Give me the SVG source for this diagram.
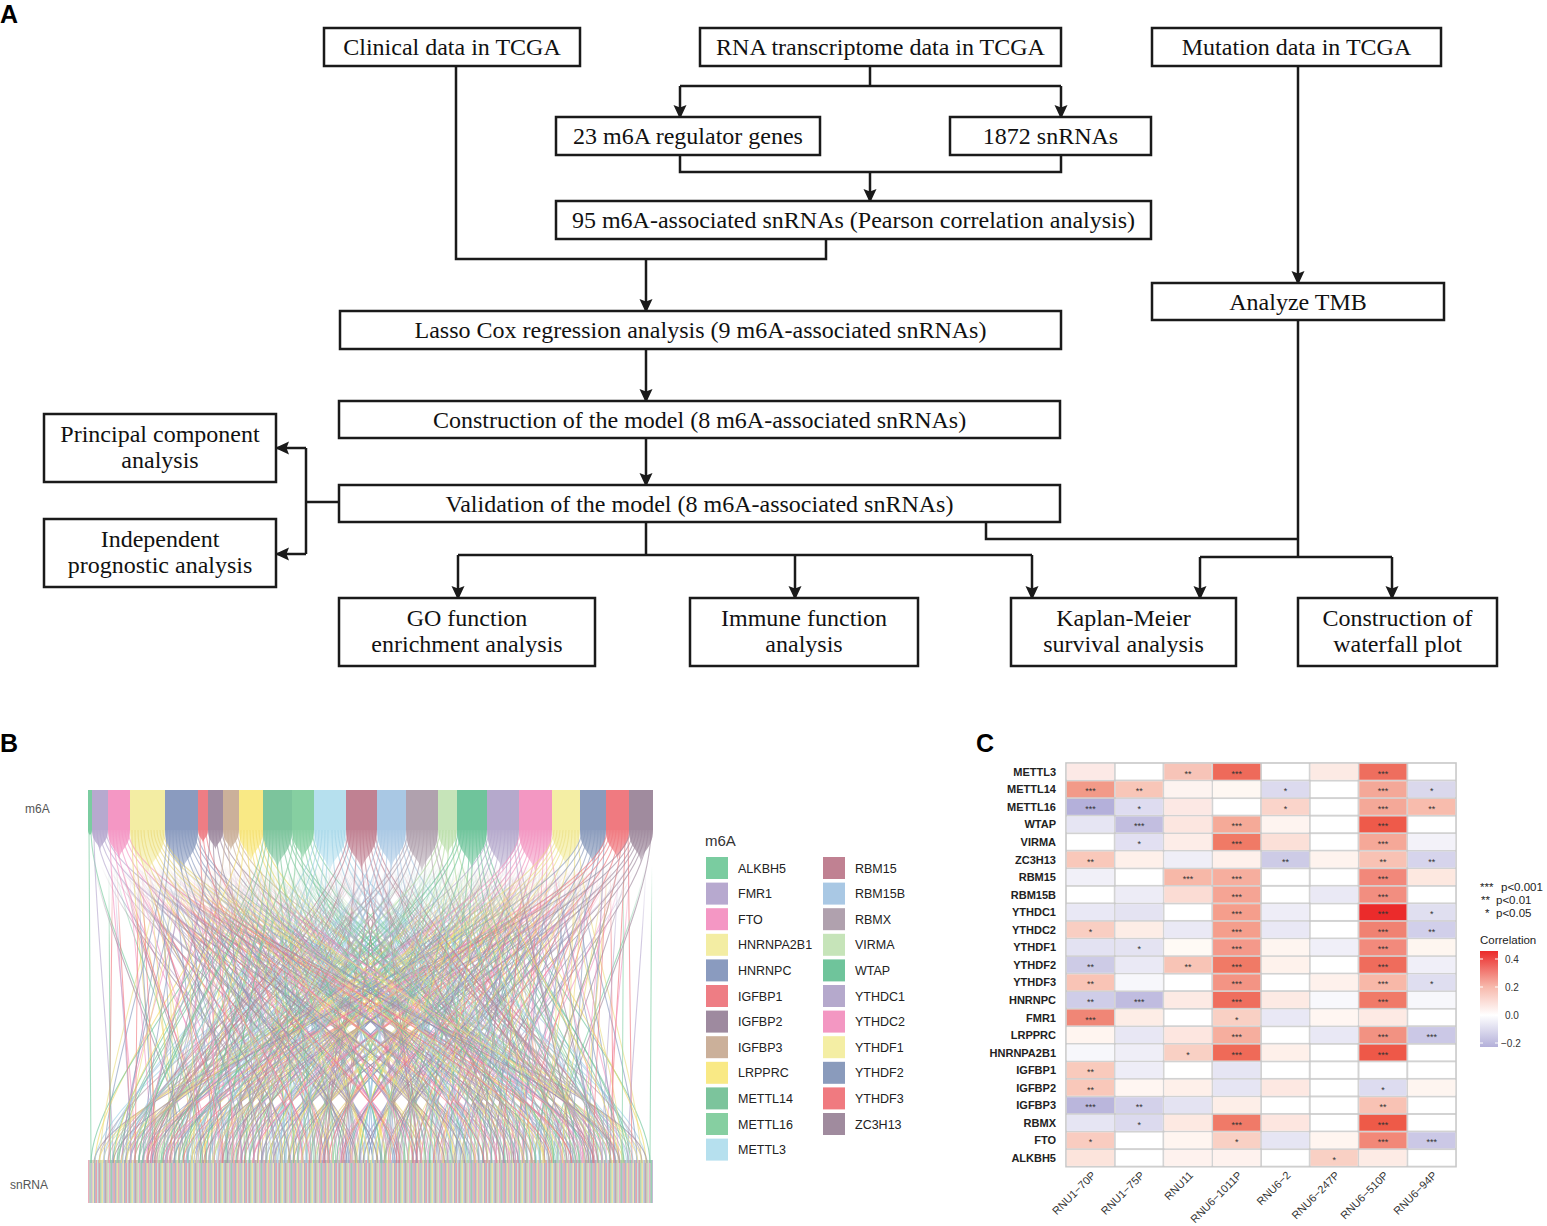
<svg xmlns="http://www.w3.org/2000/svg" xmlns:xlink="http://www.w3.org/1999/xlink" width="1547" height="1226" viewBox="0 0 1547 1226">
<style>
.bx{fill:#fff;stroke:#1a1a1a;stroke-width:2.5}
.bt{font-family:"Liberation Serif","Times New Roman",serif;font-size:24px;fill:#111;text-anchor:middle}
.cn{fill:none;stroke:#1a1a1a;stroke-width:2.5}
.ar{fill:none;stroke:#1a1a1a;stroke-width:2.5;marker-end:url(#ah)}
.pl{font-family:"Liberation Sans",Arial,sans-serif;font-weight:bold;font-size:25px;fill:#000}
.lg{font-family:"Liberation Sans",Arial,sans-serif;font-size:12.5px;fill:#222}
.ax{font-family:"Liberation Sans",Arial,sans-serif;font-size:12px;fill:#555}
.rl{font-family:"Liberation Sans",Arial,sans-serif;font-weight:bold;font-size:11px;fill:#222;text-anchor:end}
.st{font-family:"Liberation Sans",Arial,sans-serif;font-size:9px;fill:#333;text-anchor:middle}
.cl{font-family:"Liberation Sans",Arial,sans-serif;font-size:11px;fill:#333;text-anchor:end}
.sm{font-family:"Liberation Sans",Arial,sans-serif;font-size:11.5px;fill:#222}
.lk path{fill:none;stroke-width:1.1;stroke-opacity:0.65}
</style>
<defs>
<marker id="ah" viewBox="0 0 14 14" refX="12" refY="7" markerWidth="14" markerHeight="14" markerUnits="userSpaceOnUse" orient="auto"><path d="M0,0.5 L14,7 L0,13.5 L2.5,7 Z" fill="#1a1a1a"/></marker>
<linearGradient id="fg" x1="0" y1="830" x2="0" y2="905" gradientUnits="userSpaceOnUse"><stop offset="0" stop-color="#fff" stop-opacity="0.95"/><stop offset="0.55" stop-color="#fff" stop-opacity="0.45"/><stop offset="1" stop-color="#fff" stop-opacity="0"/></linearGradient>
<mask id="fade" maskUnits="userSpaceOnUse" x="80" y="828" width="590" height="90"><rect x="80" y="828" width="590" height="90" fill="url(#fg)"/></mask>
<linearGradient id="mg" x1="0" y1="865" x2="0" y2="945" gradientUnits="userSpaceOnUse"><stop offset="0" stop-color="#000"/><stop offset="1" stop-color="#fff"/></linearGradient>
<mask id="mm" maskUnits="userSpaceOnUse" x="50" y="800" width="640" height="380"><rect x="50" y="800" width="640" height="380" fill="url(#mg)"/></mask>
<pattern id="sn" patternUnits="userSpaceOnUse" x="88" y="0" width="30" height="1300">
<rect x="0" width="1.5" height="1300" fill="#F4A7B9"/><rect x="1.5" width="1.5" height="1300" fill="#A9D8C0"/><rect x="3" width="1.5" height="1300" fill="#C9B8D8"/><rect x="4.5" width="1.5" height="1300" fill="#F6EFB0"/><rect x="6" width="1.5" height="1300" fill="#9FB0CC"/><rect x="7.5" width="1.5" height="1300" fill="#F29AA0"/><rect x="9" width="1.5" height="1300" fill="#C4E6F0"/><rect x="10.5" width="1.5" height="1300" fill="#CF98A6"/><rect x="12" width="1.5" height="1300" fill="#A6DDB6"/><rect x="13.5" width="1.5" height="1300" fill="#F7EB9A"/><rect x="15" width="1.5" height="1300" fill="#BCD4EC"/><rect x="16.5" width="1.5" height="1300" fill="#B4A2B3"/><rect x="18" width="1.5" height="1300" fill="#D7C2AE"/><rect x="19.5" width="1.5" height="1300" fill="#D2EAC5"/><rect x="21" width="1.5" height="1300" fill="#F5A9CD"/><rect x="22.5" width="1.5" height="1300" fill="#8FD0AE"/><rect x="24" width="1.5" height="1300" fill="#C2B7D8"/><rect x="25.5" width="1.5" height="1300" fill="#EFA2A6"/><rect x="27" width="1.5" height="1300" fill="#A5B3CE"/><rect x="28.5" width="1.5" height="1300" fill="#E9E3A5"/>
</pattern>
<pattern id="grid" patternUnits="userSpaceOnUse" x="1066" y="763" width="48.75" height="17.55"><rect width="48.75" height="17.55" fill="#C8C8C8"/><rect x="0.8" y="0.8" width="47.2" height="15.95" fill="#fff"/></pattern>
<linearGradient id="cb" x1="0" y1="951" x2="0" y2="1047" gradientUnits="userSpaceOnUse"><stop offset="0" stop-color="#EB2A2A"/><stop offset="0.375" stop-color="#F7B9AC"/><stop offset="0.667" stop-color="#FFFFFF"/><stop offset="1" stop-color="#B3AFD9"/></linearGradient>
</defs>
<rect width="1547" height="1226" fill="#fff"/>

<!-- Panel A -->
<text class="pl" x="0" y="23">A</text>
<g id="connectors">
<path class="cn" d="M456,66 V259 H826 V239"/>
<path class="ar" d="M646,259 V311"/>
<path class="cn" d="M870,66 V86 M680,86 H1061"/>
<path class="ar" d="M680,86 V117"/>
<path class="ar" d="M1061,86 V117"/>
<path class="cn" d="M680,155 V172 H1061 V155"/>
<path class="ar" d="M870,172 V201"/>
<path class="ar" d="M646,349 V401"/>
<path class="ar" d="M646,438 V485"/>
<path class="cn" d="M339,502 H306 M306,448 V554"/>
<path class="ar" d="M306,448 H277"/>
<path class="ar" d="M306,554 H277"/>
<path class="cn" d="M646,522 V555 M458,555 H1032"/>
<path class="ar" d="M458,555 V598"/>
<path class="ar" d="M795,555 V598"/>
<path class="ar" d="M1032,555 V598"/>
<path class="ar" d="M1298,66 V283"/>
<path class="cn" d="M1298,320 V557 M986,522 V539 H1298 M1200,557 H1392"/>
<path class="ar" d="M1200,557 V598"/>
<path class="ar" d="M1392,557 V598"/>
</g>
<g id="n-clinical"><rect class="bx" x="324" y="28" width="256" height="38"/><text class="bt" x="452" y="55">Clinical data in TCGA</text></g>
<g id="n-rna"><rect class="bx" x="700" y="28" width="361" height="38"/><text class="bt" x="880.5" y="55">RNA transcriptome data in TCGA</text></g>
<g id="n-mutation"><rect class="bx" x="1152" y="28" width="289" height="38"/><text class="bt" x="1296.5" y="55">Mutation data in TCGA</text></g>
<g id="n-m6a"><rect class="bx" x="556" y="117" width="264" height="38"/><text class="bt" x="688" y="144">23 m6A regulator genes</text></g>
<g id="n-snrna"><rect class="bx" x="950" y="117" width="201" height="38"/><text class="bt" x="1050.5" y="144">1872 snRNAs</text></g>
<g id="n-pearson"><rect class="bx" x="556" y="201" width="595" height="38"/><text class="bt" x="853.5" y="228">95 m6A-associated snRNAs (Pearson correlation analysis)</text></g>
<g id="n-lasso"><rect class="bx" x="340" y="311" width="721" height="38"/><text class="bt" x="700.5" y="338">Lasso Cox regression analysis (9 m6A-associated snRNAs)</text></g>
<g id="n-tmb"><rect class="bx" x="1152" y="283" width="292" height="37"/><text class="bt" x="1298" y="309.5">Analyze TMB</text></g>
<g id="n-construct"><rect class="bx" x="339" y="401" width="721" height="37"/><text class="bt" x="699.5" y="427.5">Construction of the model (8 m6A-associated snRNAs)</text></g>
<g id="n-validate"><rect class="bx" x="339" y="485" width="721" height="37"/><text class="bt" x="699.5" y="511.5">Validation of the model (8 m6A-associated snRNAs)</text></g>
<g id="n-pca"><rect class="bx" x="44" y="414" width="232" height="68"/><text class="bt" x="160" y="442">Principal component</text><text class="bt" x="160" y="468">analysis</text></g>
<g id="n-indep"><rect class="bx" x="44" y="519" width="232" height="68"/><text class="bt" x="160" y="547">Independent</text><text class="bt" x="160" y="573">prognostic analysis</text></g>
<g id="n-go"><rect class="bx" x="339" y="598" width="256" height="68"/><text class="bt" x="467" y="626">GO function</text><text class="bt" x="467" y="652">enrichment analysis</text></g>
<g id="n-immune"><rect class="bx" x="690" y="598" width="228" height="68"/><text class="bt" x="804" y="626">Immune function</text><text class="bt" x="804" y="652">analysis</text></g>
<g id="n-km"><rect class="bx" x="1011" y="598" width="225" height="68"/><text class="bt" x="1123.5" y="626">Kaplan-Meier</text><text class="bt" x="1123.5" y="652">survival analysis</text></g>
<g id="n-waterfall"><rect class="bx" x="1298" y="598" width="199" height="68"/><text class="bt" x="1397.5" y="626">Construction of</text><text class="bt" x="1397.5" y="652">waterfall plot</text></g>

<!-- Panel B -->
<text class="pl" x="0" y="752">B</text>
<text class="ax" x="25" y="813">m6A</text>
<text class="ax" x="10" y="1189">snRNA</text>
<rect x="88" y="1160" width="565" height="43" fill="#C9C9C9"/>
<rect x="88" y="1160" width="565" height="43" fill="url(#sn)" opacity="0.8"/>
<g id="fans" mask="url(#fade)">
<path d="M88 830C88 834 90 834 90 836C90 834 92 834 92 830Z" fill="#7ACCA0"/>
<path d="M92 830C92 843 100 843 100 852C100 843 108 843 108 830Z" fill="#B7A9CF"/>
<path d="M108 830C108 849 119 849 119 861C119 849 130 849 130 830Z" fill="#F497C4"/>
<path d="M130 830C130 859 147.5 859 147.5 879C147.5 859 165 859 165 830Z" fill="#F3EDA3"/>
<path d="M165 830C165 858 181.5 858 181.5 876C181.5 858 198 858 198 830Z" fill="#8A9BBF"/>
<path d="M198 830C198 838 203 838 203 844C203 838 208 838 208 830Z" fill="#EE7D84"/>
<path d="M208 830C208 843 215.5 843 215.5 851C215.5 843 223 843 223 830Z" fill="#9E8A9F"/>
<path d="M223 830C223 843 231 843 231 852C231 843 239 843 239 830Z" fill="#CBB09A"/>
<path d="M239 830C239 850 251 850 251 864C251 850 263 850 263 830Z" fill="#F9E985"/>
<path d="M263 830C263 855 277.5 855 277.5 871C277.5 855 292 855 292 830Z" fill="#7CC49C"/>
<path d="M292 830C292 849 303 849 303 861C303 849 314 849 314 830Z" fill="#86CFA1"/>
<path d="M314 830C314 857 330 857 330 875C330 857 346 857 346 830Z" fill="#B6E0EE"/>
<path d="M346 830C346 856 361.5 856 361.5 873C361.5 856 377 856 377 830Z" fill="#C08192"/>
<path d="M377 830C377 855 391.5 855 391.5 871C391.5 855 406 855 406 830Z" fill="#A9C8E4"/>
<path d="M406 830C406 857 422 857 422 875C422 857 438 857 438 830Z" fill="#B0A1AE"/>
<path d="M438 830C438 846 447.5 846 447.5 857C447.5 846 457 846 457 830Z" fill="#C6E4B9"/>
<path d="M457 830C457 855 472 855 472 872C472 855 487 855 487 830Z" fill="#6FC49B"/>
<path d="M487 830C487 857 503 857 503 875C503 857 519 857 519 830Z" fill="#B5A9CC"/>
<path d="M519 830C519 858 535.5 858 535.5 876C535.5 858 552 858 552 830Z" fill="#F397C2"/>
<path d="M552 830C552 853 566 853 566 869C566 853 580 853 580 830Z" fill="#F4EEA4"/>
<path d="M580 830C580 852 593 852 593 866C593 852 606 852 606 830Z" fill="#8A9BBC"/>
<path d="M606 830C606 849 617.5 849 617.5 862C617.5 849 629 849 629 830Z" fill="#F07A80"/>
<path d="M629 830C629 850 641 850 641 864C641 850 653 850 653 830Z" fill="#A08B9E"/>
</g>
<g id="links" class="lk">
<path stroke="#7ACCA0" d="M89 830C89 915 91 1080 91 1163M91 830C91 915 188 1080 188 1163"/>
<path stroke="#B7A9CF" d="M94 830C94 915 113 1080 113 1163M97 830C97 915 285 1080 285 1163M100 830C100 915 382 1080 382 1163M103 830C103 915 479 1080 479 1163M106 830C106 915 576 1080 576 1163"/>
<path stroke="#F497C4" d="M110 830C110 915 135 1080 135 1163M113 830C113 915 210 1080 210 1163M116 830C116 915 232 1080 232 1163M119 830C119 915 307 1080 307 1163M122 830C122 915 404 1080 404 1163M125 830C125 915 501 1080 501 1163M128 830C128 915 598 1080 598 1163"/>
<path stroke="#EBD97A" d="M132 830C132 915 157 1080 157 1163M135 830C135 915 179 1080 179 1163M138 830C138 915 254 1080 254 1163M141 830C141 915 329 1080 329 1163M144 830C144 915 351 1080 351 1163M148 830C148 915 426 1080 426 1163M151 830C151 915 448 1080 448 1163M154 830C154 915 523 1080 523 1163M157 830C157 915 545 1080 545 1163M160 830C160 915 620 1080 620 1163M163 830C163 915 642 1080 642 1163"/>
<path stroke="#8A9BBF" d="M167 830C167 915 104 1080 104 1163M170 830C170 915 126 1080 126 1163M173 830C173 915 201 1080 201 1163M176 830C176 915 276 1080 276 1163M179 830C179 915 298 1080 298 1163M182 830C182 915 373 1080 373 1163M185 830C185 915 395 1080 395 1163M188 830C188 915 470 1080 470 1163M191 830C191 915 492 1080 492 1163M194 830C194 915 567 1080 567 1163M197 830C197 915 589 1080 589 1163"/>
<path stroke="#EE7D84" d="M200 830C200 915 223 1080 223 1163M203 830C203 915 320 1080 320 1163M206 830C206 915 417 1080 417 1163"/>
<path stroke="#9E8A9F" d="M210 830C210 915 148 1080 148 1163M213 830C213 915 245 1080 245 1163M216 830C216 915 342 1080 342 1163M219 830C219 915 514 1080 514 1163M222 830C222 915 611 1080 611 1163"/>
<path stroke="#CBB09A" d="M225 830C225 915 170 1080 170 1163M228 830C228 915 267 1080 267 1163M231 830C231 915 439 1080 439 1163M234 830C234 915 536 1080 536 1163M237 830C237 915 633 1080 633 1163"/>
<path stroke="#F2DC6A" d="M241 830C241 915 95 1080 95 1163M244 830C244 915 192 1080 192 1163M247 830C247 915 289 1080 289 1163M250 830C250 915 364 1080 364 1163M253 830C253 915 386 1080 386 1163M256 830C256 915 461 1080 461 1163M259 830C259 915 483 1080 483 1163M262 830C262 915 558 1080 558 1163"/>
<path stroke="#7CC49C" d="M264 830C264 915 117 1080 117 1163M267 830C267 915 139 1080 139 1163M270 830C270 915 214 1080 214 1163M273 830C273 915 236 1080 236 1163M276 830C276 915 311 1080 311 1163M279 830C279 915 333 1080 333 1163M282 830C282 915 408 1080 408 1163M285 830C285 915 505 1080 505 1163M288 830C288 915 580 1080 580 1163M291 830C291 915 602 1080 602 1163"/>
<path stroke="#86CFA1" d="M294 830C294 915 161 1080 161 1163M297 830C297 915 258 1080 258 1163M300 830C300 915 355 1080 355 1163M303 830C303 915 430 1080 430 1163M306 830C306 915 452 1080 452 1163M309 830C309 915 527 1080 527 1163M312 830C312 915 624 1080 624 1163"/>
<path stroke="#9FD3E6" d="M316 830C316 915 108 1080 108 1163M319 830C319 915 183 1080 183 1163M322 830C322 915 205 1080 205 1163M325 830C325 915 280 1080 280 1163M328 830C328 915 302 1080 302 1163M332 830C332 915 377 1080 377 1163M335 830C335 915 474 1080 474 1163M338 830C338 915 549 1080 549 1163M341 830C341 915 571 1080 571 1163M344 830C344 915 646 1080 646 1163"/>
<path stroke="#C08192" d="M348 830C348 915 130 1080 130 1163M351 830C351 915 152 1080 152 1163M354 830C354 915 227 1080 227 1163M357 830C357 915 324 1080 324 1163M360 830C360 915 399 1080 399 1163M363 830C363 915 421 1080 421 1163M366 830C366 915 496 1080 496 1163M369 830C369 915 518 1080 518 1163M372 830C372 915 593 1080 593 1163M375 830C375 915 615 1080 615 1163"/>
<path stroke="#A9C8E4" d="M379 830C379 915 174 1080 174 1163M382 830C382 915 249 1080 249 1163M385 830C385 915 271 1080 271 1163M388 830C388 915 346 1080 346 1163M392 830C392 915 368 1080 368 1163M395 830C395 915 443 1080 443 1163M398 830C398 915 465 1080 465 1163M401 830C401 915 540 1080 540 1163M404 830C404 915 637 1080 637 1163"/>
<path stroke="#B0A1AE" d="M408 830C408 915 99 1080 99 1163M411 830C411 915 121 1080 121 1163M414 830C414 915 196 1080 196 1163M417 830C417 915 218 1080 218 1163M420 830C420 915 293 1080 293 1163M424 830C424 915 315 1080 315 1163M427 830C427 915 390 1080 390 1163M430 830C430 915 487 1080 487 1163M433 830C433 915 562 1080 562 1163M436 830C436 915 584 1080 584 1163"/>
<path stroke="#B3DC9F" d="M440 830C440 915 143 1080 143 1163M443 830C443 915 240 1080 240 1163M446 830C446 915 337 1080 337 1163M449 830C449 915 412 1080 412 1163M452 830C452 915 509 1080 509 1163M455 830C455 915 606 1080 606 1163"/>
<path stroke="#6FC49B" d="M458 830C458 915 165 1080 165 1163M461 830C461 915 187 1080 187 1163M464 830C464 915 262 1080 262 1163M467 830C467 915 359 1080 359 1163M470 830C470 915 434 1080 434 1163M473 830C473 915 456 1080 456 1163M476 830C476 915 531 1080 531 1163M479 830C479 915 553 1080 553 1163M482 830C482 915 628 1080 628 1163M485 830C485 915 650 1080 650 1163"/>
<path stroke="#B5A9CC" d="M489 830C489 915 112 1080 112 1163M492 830C492 915 209 1080 209 1163M495 830C495 915 284 1080 284 1163M498 830C498 915 306 1080 306 1163M501 830C501 915 381 1080 381 1163M505 830C505 915 403 1080 403 1163M508 830C508 915 478 1080 478 1163M511 830C511 915 500 1080 500 1163M514 830C514 915 575 1080 575 1163M517 830C517 915 597 1080 597 1163"/>
<path stroke="#F397C2" d="M520 830C520 915 134 1080 134 1163M523 830C523 915 156 1080 156 1163M526 830C526 915 231 1080 231 1163M529 830C529 915 253 1080 253 1163M532 830C532 915 328 1080 328 1163M535 830C535 915 350 1080 350 1163M538 830C538 915 425 1080 425 1163M541 830C541 915 447 1080 447 1163M544 830C544 915 522 1080 522 1163M547 830C547 915 544 1080 544 1163M550 830C550 915 619 1080 619 1163"/>
<path stroke="#EBDF86" d="M554 830C554 915 103 1080 103 1163M557 830C557 915 178 1080 178 1163M560 830C560 915 200 1080 200 1163M563 830C563 915 275 1080 275 1163M566 830C566 915 297 1080 297 1163M569 830C569 915 372 1080 372 1163M572 830C572 915 469 1080 469 1163M575 830C575 915 566 1080 566 1163M578 830C578 915 641 1080 641 1163"/>
<path stroke="#8A9BBC" d="M582 830C582 915 125 1080 125 1163M585 830C585 915 222 1080 222 1163M588 830C588 915 319 1080 319 1163M591 830C591 915 394 1080 394 1163M595 830C595 915 416 1080 416 1163M598 830C598 915 491 1080 491 1163M601 830C601 915 513 1080 513 1163M604 830C604 915 588 1080 588 1163"/>
<path stroke="#F07A80" d="M607 830C607 915 147 1080 147 1163M610 830C610 915 169 1080 169 1163M613 830C613 915 244 1080 244 1163M616 830C616 915 341 1080 341 1163M619 830C619 915 438 1080 438 1163M622 830C622 915 535 1080 535 1163M625 830C625 915 610 1080 610 1163M628 830C628 915 632 1080 632 1163"/>
<path stroke="#A08B9E" d="M630 830C630 915 94 1080 94 1163M633 830C633 915 191 1080 191 1163M636 830C636 915 266 1080 266 1163M639 830C639 915 288 1080 288 1163M642 830C642 915 363 1080 363 1163M645 830C645 915 385 1080 385 1163M648 830C648 915 460 1080 460 1163M651 830C651 915 557 1080 557 1163"/>
</g>
<use href="#links" xlink:href="#links" transform="matrix(-1 0 0 1 741 0)" mask="url(#mm)"/>
<use href="#links" xlink:href="#links" transform="matrix(0.93 0 0 1 25.9 0)" mask="url(#mm)"/>
<use href="#links" xlink:href="#links" transform="matrix(-0.9 0 0 1 703.95 0)" mask="url(#mm)"/>
<g id="m6a-bars">
<rect x="88" y="790" width="4" height="40" fill="#7ACCA0"/>
<rect x="92" y="790" width="16" height="40" fill="#B7A9CF"/>
<rect x="108" y="790" width="22" height="40" fill="#F497C4"/>
<rect x="130" y="790" width="35" height="40" fill="#F3EDA3"/>
<rect x="165" y="790" width="33" height="40" fill="#8A9BBF"/>
<rect x="198" y="790" width="10" height="40" fill="#EE7D84"/>
<rect x="208" y="790" width="15" height="40" fill="#9E8A9F"/>
<rect x="223" y="790" width="16" height="40" fill="#CBB09A"/>
<rect x="239" y="790" width="24" height="40" fill="#F9E985"/>
<rect x="263" y="790" width="29" height="40" fill="#7CC49C"/>
<rect x="292" y="790" width="22" height="40" fill="#86CFA1"/>
<rect x="314" y="790" width="32" height="40" fill="#B6E0EE"/>
<rect x="346" y="790" width="31" height="40" fill="#C08192"/>
<rect x="377" y="790" width="29" height="40" fill="#A9C8E4"/>
<rect x="406" y="790" width="32" height="40" fill="#B0A1AE"/>
<rect x="438" y="790" width="19" height="40" fill="#C6E4B9"/>
<rect x="457" y="790" width="30" height="40" fill="#6FC49B"/>
<rect x="487" y="790" width="32" height="40" fill="#B5A9CC"/>
<rect x="519" y="790" width="33" height="40" fill="#F397C2"/>
<rect x="552" y="790" width="28" height="40" fill="#F4EEA4"/>
<rect x="580" y="790" width="26" height="40" fill="#8A9BBC"/>
<rect x="606" y="790" width="23" height="40" fill="#F07A80"/>
<rect x="629" y="790" width="24" height="40" fill="#A08B9E"/>
</g>
<g id="legend-b">
<text x="705" y="846" font-family="Liberation Sans, Arial, sans-serif" font-size="15" fill="#333">m6A</text>
<rect x="706" y="857" width="22" height="22" fill="#7ACCA0"/><text class="lg" x="738" y="872.5">ALKBH5</text>
<rect x="706" y="882.6" width="22" height="22" fill="#B7A9CF"/><text class="lg" x="738" y="898.1">FMR1</text>
<rect x="706" y="908.2" width="22" height="22" fill="#F497C4"/><text class="lg" x="738" y="923.7">FTO</text>
<rect x="706" y="933.8" width="22" height="22" fill="#F3EDA3"/><text class="lg" x="738" y="949.3">HNRNPA2B1</text>
<rect x="706" y="959.4" width="22" height="22" fill="#8A9BBF"/><text class="lg" x="738" y="974.9">HNRNPC</text>
<rect x="706" y="985" width="22" height="22" fill="#EE7D84"/><text class="lg" x="738" y="1000.5">IGFBP1</text>
<rect x="706" y="1010.6" width="22" height="22" fill="#9E8A9F"/><text class="lg" x="738" y="1026.1">IGFBP2</text>
<rect x="706" y="1036.2" width="22" height="22" fill="#CBB09A"/><text class="lg" x="738" y="1051.7">IGFBP3</text>
<rect x="706" y="1061.8" width="22" height="22" fill="#F9E985"/><text class="lg" x="738" y="1077.3">LRPPRC</text>
<rect x="706" y="1087.4" width="22" height="22" fill="#7CC49C"/><text class="lg" x="738" y="1102.9">METTL14</text>
<rect x="706" y="1113" width="22" height="22" fill="#86CFA1"/><text class="lg" x="738" y="1128.5">METTL16</text>
<rect x="706" y="1138.6" width="22" height="22" fill="#B6E0EE"/><text class="lg" x="738" y="1154.1">METTL3</text>
<rect x="823" y="857" width="22" height="22" fill="#C08192"/><text class="lg" x="855" y="872.5">RBM15</text>
<rect x="823" y="882.6" width="22" height="22" fill="#A9C8E4"/><text class="lg" x="855" y="898.1">RBM15B</text>
<rect x="823" y="908.2" width="22" height="22" fill="#B0A1AE"/><text class="lg" x="855" y="923.7">RBMX</text>
<rect x="823" y="933.8" width="22" height="22" fill="#C6E4B9"/><text class="lg" x="855" y="949.3">VIRMA</text>
<rect x="823" y="959.4" width="22" height="22" fill="#6FC49B"/><text class="lg" x="855" y="974.9">WTAP</text>
<rect x="823" y="985" width="22" height="22" fill="#B5A9CC"/><text class="lg" x="855" y="1000.5">YTHDC1</text>
<rect x="823" y="1010.6" width="22" height="22" fill="#F397C2"/><text class="lg" x="855" y="1026.1">YTHDC2</text>
<rect x="823" y="1036.2" width="22" height="22" fill="#F4EEA4"/><text class="lg" x="855" y="1051.7">YTHDF1</text>
<rect x="823" y="1061.8" width="22" height="22" fill="#8A9BBC"/><text class="lg" x="855" y="1077.3">YTHDF2</text>
<rect x="823" y="1087.4" width="22" height="22" fill="#F07A80"/><text class="lg" x="855" y="1102.9">YTHDF3</text>
<rect x="823" y="1113" width="22" height="22" fill="#A08B9E"/><text class="lg" x="855" y="1128.5">ZC3H13</text>
</g>

<!-- Panel C -->
<text class="pl" x="976" y="752">C</text>
<rect x="1065.2" y="762.2" width="391.6" height="405.3" fill="#C8C8C8"/>
<rect x="1066" y="763" width="390" height="403.65" fill="url(#grid)"/>
<g id="heatmap">
<g id="r-METTL3" transform="translate(0,763.8)"><text class="rl" x="1056" y="12">METTL3</text>
<rect x="1066.8" width="47.2" height="15.95" fill="#FCE9E6"/><rect x="1164.3" width="47.2" height="15.95" fill="#F7C4B8"/><rect x="1213.05" width="47.2" height="15.95" fill="#EE6A5A"/><rect x="1310.55" width="47.2" height="15.95" fill="#FCEAE4"/><rect x="1359.3" width="47.2" height="15.95" fill="#EE6E5E"/>
<text class="st" x="1187.9" y="13">**</text><text class="st" x="1236.65" y="13">***</text><text class="st" x="1382.9" y="13">***</text></g>
<g id="r-METTL14" transform="translate(0,781.35)"><text class="rl" x="1056" y="12">METTL14</text>
<rect x="1066.8" width="47.2" height="15.95" fill="#F29A88"/><rect x="1115.55" width="47.2" height="15.95" fill="#F8C6B8"/><rect x="1164.3" width="47.2" height="15.95" fill="#FDF3F0"/><rect x="1213.05" width="47.2" height="15.95" fill="#FEF7F2"/><rect x="1261.8" width="47.2" height="15.95" fill="#DCDAEE"/><rect x="1359.3" width="47.2" height="15.95" fill="#F4A898"/><rect x="1408.05" width="47.2" height="15.95" fill="#DAD8EC"/>
<text class="st" x="1090.4" y="13">***</text><text class="st" x="1139.15" y="13">**</text><text class="st" x="1285.4" y="13">*</text><text class="st" x="1382.9" y="13">***</text><text class="st" x="1431.65" y="13">*</text></g>
<g id="r-METTL16" transform="translate(0,798.9)"><text class="rl" x="1056" y="12">METTL16</text>
<rect x="1066.8" width="47.2" height="15.95" fill="#B4B0DA"/><rect x="1115.55" width="47.2" height="15.95" fill="#DEDCF0"/><rect x="1164.3" width="47.2" height="15.95" fill="#FCE8E4"/><rect x="1261.8" width="47.2" height="15.95" fill="#FAD4CA"/><rect x="1359.3" width="47.2" height="15.95" fill="#F4A898"/><rect x="1408.05" width="47.2" height="15.95" fill="#F8BCAD"/>
<text class="st" x="1090.4" y="13">***</text><text class="st" x="1139.15" y="13">*</text><text class="st" x="1285.4" y="13">*</text><text class="st" x="1382.9" y="13">***</text><text class="st" x="1431.65" y="13">**</text></g>
<g id="r-WTAP" transform="translate(0,816.45)"><text class="rl" x="1056" y="12">WTAP</text>
<rect x="1066.8" width="47.2" height="15.95" fill="#E6E5F3"/><rect x="1115.55" width="47.2" height="15.95" fill="#C2BEE0"/><rect x="1164.3" width="47.2" height="15.95" fill="#FCE6E0"/><rect x="1213.05" width="47.2" height="15.95" fill="#F5AA98"/><rect x="1261.8" width="47.2" height="15.95" fill="#FEF4F0"/><rect x="1359.3" width="47.2" height="15.95" fill="#EE5A4A"/>
<text class="st" x="1139.15" y="13">***</text><text class="st" x="1236.65" y="13">***</text><text class="st" x="1382.9" y="13">***</text></g>
<g id="r-VIRMA" transform="translate(0,834)"><text class="rl" x="1056" y="12">VIRMA</text>
<rect x="1115.55" width="47.2" height="15.95" fill="#E2E0F2"/><rect x="1164.3" width="47.2" height="15.95" fill="#FDEDE8"/><rect x="1213.05" width="47.2" height="15.95" fill="#F07A66"/><rect x="1261.8" width="47.2" height="15.95" fill="#FBE0D8"/><rect x="1359.3" width="47.2" height="15.95" fill="#F5A898"/><rect x="1408.05" width="47.2" height="15.95" fill="#F3F2F9"/>
<text class="st" x="1139.15" y="13">*</text><text class="st" x="1236.65" y="13">***</text><text class="st" x="1382.9" y="13">***</text></g>
<g id="r-ZC3H13" transform="translate(0,851.55)"><text class="rl" x="1056" y="12">ZC3H13</text>
<rect x="1066.8" width="47.2" height="15.95" fill="#F9C8BA"/><rect x="1115.55" width="47.2" height="15.95" fill="#FEF0EA"/><rect x="1164.3" width="47.2" height="15.95" fill="#EFEEF7"/><rect x="1213.05" width="47.2" height="15.95" fill="#FEF0EB"/><rect x="1261.8" width="47.2" height="15.95" fill="#CDCBE6"/><rect x="1310.55" width="47.2" height="15.95" fill="#FEF3EE"/><rect x="1359.3" width="47.2" height="15.95" fill="#F8C2B4"/><rect x="1408.05" width="47.2" height="15.95" fill="#D6D4EC"/>
<text class="st" x="1090.4" y="13">**</text><text class="st" x="1285.4" y="13">**</text><text class="st" x="1382.9" y="13">**</text><text class="st" x="1431.65" y="13">**</text></g>
<g id="r-RBM15" transform="translate(0,869.1)"><text class="rl" x="1056" y="12">RBM15</text>
<rect x="1066.8" width="47.2" height="15.95" fill="#F1F0F8"/><rect x="1164.3" width="47.2" height="15.95" fill="#F7B8A8"/><rect x="1213.05" width="47.2" height="15.95" fill="#F6AE9E"/><rect x="1359.3" width="47.2" height="15.95" fill="#F2887A"/><rect x="1408.05" width="47.2" height="15.95" fill="#FDE8E0"/>
<text class="st" x="1187.9" y="13">***</text><text class="st" x="1236.65" y="13">***</text><text class="st" x="1382.9" y="13">***</text></g>
<g id="r-RBM15B" transform="translate(0,886.65)"><text class="rl" x="1056" y="12">RBM15B</text>
<rect x="1115.55" width="47.2" height="15.95" fill="#EDECF6"/><rect x="1164.3" width="47.2" height="15.95" fill="#FBDCD4"/><rect x="1213.05" width="47.2" height="15.95" fill="#F5A494"/><rect x="1310.55" width="47.2" height="15.95" fill="#EAE9F5"/><rect x="1359.3" width="47.2" height="15.95" fill="#F28E80"/>
<text class="st" x="1236.65" y="13">***</text><text class="st" x="1382.9" y="13">***</text></g>
<g id="r-YTHDC1" transform="translate(0,904.2)"><text class="rl" x="1056" y="12">YTHDC1</text>
<rect x="1066.8" width="47.2" height="15.95" fill="#E9E8F5"/><rect x="1115.55" width="47.2" height="15.95" fill="#E4E3F2"/><rect x="1213.05" width="47.2" height="15.95" fill="#F59E8C"/><rect x="1261.8" width="47.2" height="15.95" fill="#EEEDF7"/><rect x="1359.3" width="47.2" height="15.95" fill="#EB2B2B"/><rect x="1408.05" width="47.2" height="15.95" fill="#E0DFF0"/>
<text class="st" x="1236.65" y="13">***</text><text class="st" x="1382.9" y="13">***</text><text class="st" x="1431.65" y="13">*</text></g>
<g id="r-YTHDC2" transform="translate(0,921.75)"><text class="rl" x="1056" y="12">YTHDC2</text>
<rect x="1066.8" width="47.2" height="15.95" fill="#F9CEC2"/><rect x="1115.55" width="47.2" height="15.95" fill="#FDEDE6"/><rect x="1164.3" width="47.2" height="15.95" fill="#EAE9F5"/><rect x="1213.05" width="47.2" height="15.95" fill="#F59E8C"/><rect x="1261.8" width="47.2" height="15.95" fill="#E9E8F5"/><rect x="1359.3" width="47.2" height="15.95" fill="#F08272"/><rect x="1408.05" width="47.2" height="15.95" fill="#D1CFEA"/>
<text class="st" x="1090.4" y="13">*</text><text class="st" x="1236.65" y="13">***</text><text class="st" x="1382.9" y="13">***</text><text class="st" x="1431.65" y="13">**</text></g>
<g id="r-YTHDF1" transform="translate(0,939.3)"><text class="rl" x="1056" y="12">YTHDF1</text>
<rect x="1066.8" width="47.2" height="15.95" fill="#E3E2F2"/><rect x="1115.55" width="47.2" height="15.95" fill="#E4E3F2"/><rect x="1164.3" width="47.2" height="15.95" fill="#FFFAF5"/><rect x="1213.05" width="47.2" height="15.95" fill="#F4998A"/><rect x="1261.8" width="47.2" height="15.95" fill="#FEF5F0"/><rect x="1310.55" width="47.2" height="15.95" fill="#F0EFF8"/><rect x="1359.3" width="47.2" height="15.95" fill="#F28A7C"/><rect x="1408.05" width="47.2" height="15.95" fill="#FEF6F0"/>
<text class="st" x="1139.15" y="13">*</text><text class="st" x="1236.65" y="13">***</text><text class="st" x="1382.9" y="13">***</text></g>
<g id="r-YTHDF2" transform="translate(0,956.85)"><text class="rl" x="1056" y="12">YTHDF2</text>
<rect x="1066.8" width="47.2" height="15.95" fill="#CDCBE6"/><rect x="1115.55" width="47.2" height="15.95" fill="#EAE9F5"/><rect x="1164.3" width="47.2" height="15.95" fill="#F8C4B6"/><rect x="1213.05" width="47.2" height="15.95" fill="#F07A66"/><rect x="1261.8" width="47.2" height="15.95" fill="#FEF2EC"/><rect x="1359.3" width="47.2" height="15.95" fill="#EF6C5C"/><rect x="1408.05" width="47.2" height="15.95" fill="#F0EFF8"/>
<text class="st" x="1090.4" y="13">**</text><text class="st" x="1187.9" y="13">**</text><text class="st" x="1236.65" y="13">***</text><text class="st" x="1382.9" y="13">***</text></g>
<g id="r-YTHDF3" transform="translate(0,974.4)"><text class="rl" x="1056" y="12">YTHDF3</text>
<rect x="1066.8" width="47.2" height="15.95" fill="#F9C4B6"/><rect x="1115.55" width="47.2" height="15.95" fill="#F7F7FB"/><rect x="1213.05" width="47.2" height="15.95" fill="#F39484"/><rect x="1310.55" width="47.2" height="15.95" fill="#FEF1EC"/><rect x="1359.3" width="47.2" height="15.95" fill="#F8B8A8"/><rect x="1408.05" width="47.2" height="15.95" fill="#DFDEF0"/>
<text class="st" x="1090.4" y="13">**</text><text class="st" x="1236.65" y="13">***</text><text class="st" x="1382.9" y="13">***</text><text class="st" x="1431.65" y="13">*</text></g>
<g id="r-HNRNPC" transform="translate(0,991.95)"><text class="rl" x="1056" y="12">HNRNPC</text>
<rect x="1066.8" width="47.2" height="15.95" fill="#CFCDE8"/><rect x="1115.55" width="47.2" height="15.95" fill="#C0BCE0"/><rect x="1164.3" width="47.2" height="15.95" fill="#FDEAE4"/><rect x="1213.05" width="47.2" height="15.95" fill="#EF6E5E"/><rect x="1261.8" width="47.2" height="15.95" fill="#FDEAE4"/><rect x="1310.55" width="47.2" height="15.95" fill="#F8F8FC"/><rect x="1359.3" width="47.2" height="15.95" fill="#F07A68"/><rect x="1408.05" width="47.2" height="15.95" fill="#F7F7FB"/>
<text class="st" x="1090.4" y="13">**</text><text class="st" x="1139.15" y="13">***</text><text class="st" x="1236.65" y="13">***</text><text class="st" x="1382.9" y="13">***</text></g>
<g id="r-FMR1" transform="translate(0,1009.5)"><text class="rl" x="1056" y="12">FMR1</text>
<rect x="1066.8" width="47.2" height="15.95" fill="#F08676"/><rect x="1115.55" width="47.2" height="15.95" fill="#FDEDE6"/><rect x="1213.05" width="47.2" height="15.95" fill="#F9D0C4"/><rect x="1261.8" width="47.2" height="15.95" fill="#E9E8F5"/><rect x="1310.55" width="47.2" height="15.95" fill="#FFF6F2"/><rect x="1359.3" width="47.2" height="15.95" fill="#FDEAE4"/>
<text class="st" x="1090.4" y="13">***</text><text class="st" x="1236.65" y="13">*</text></g>
<g id="r-LRPPRC" transform="translate(0,1027.05)"><text class="rl" x="1056" y="12">LRPPRC</text>
<rect x="1066.8" width="47.2" height="15.95" fill="#FFF5F0"/><rect x="1115.55" width="47.2" height="15.95" fill="#E8E7F4"/><rect x="1164.3" width="47.2" height="15.95" fill="#FDE6E0"/><rect x="1213.05" width="47.2" height="15.95" fill="#F6AE9E"/><rect x="1310.55" width="47.2" height="15.95" fill="#E9E8F5"/><rect x="1359.3" width="47.2" height="15.95" fill="#F29282"/><rect x="1408.05" width="47.2" height="15.95" fill="#CBC8E6"/>
<text class="st" x="1236.65" y="13">***</text><text class="st" x="1382.9" y="13">***</text><text class="st" x="1431.65" y="13">***</text></g>
<g id="r-HNRNPA2B1" transform="translate(0,1044.6)"><text class="rl" x="1056" y="12">HNRNPA2B1</text>
<rect x="1066.8" width="47.2" height="15.95" fill="#F7F7FB"/><rect x="1115.55" width="47.2" height="15.95" fill="#EFEEF7"/><rect x="1164.3" width="47.2" height="15.95" fill="#F9D0C4"/><rect x="1213.05" width="47.2" height="15.95" fill="#EF6A58"/><rect x="1261.8" width="47.2" height="15.95" fill="#FEF0EA"/><rect x="1359.3" width="47.2" height="15.95" fill="#EE5848"/>
<text class="st" x="1187.9" y="13">*</text><text class="st" x="1236.65" y="13">***</text><text class="st" x="1382.9" y="13">***</text></g>
<g id="r-IGFBP1" transform="translate(0,1062.15)"><text class="rl" x="1056" y="12">IGFBP1</text>
<rect x="1066.8" width="47.2" height="15.95" fill="#F9CABC"/><rect x="1115.55" width="47.2" height="15.95" fill="#EEEDF7"/><rect x="1213.05" width="47.2" height="15.95" fill="#E6E5F3"/>
<text class="st" x="1090.4" y="13">**</text></g>
<g id="r-IGFBP2" transform="translate(0,1079.7)"><text class="rl" x="1056" y="12">IGFBP2</text>
<rect x="1066.8" width="47.2" height="15.95" fill="#F9C8BA"/><rect x="1115.55" width="47.2" height="15.95" fill="#FFF6F2"/><rect x="1164.3" width="47.2" height="15.95" fill="#FEF0EA"/><rect x="1213.05" width="47.2" height="15.95" fill="#E6E5F3"/><rect x="1261.8" width="47.2" height="15.95" fill="#FDE8E2"/><rect x="1359.3" width="47.2" height="15.95" fill="#DDDCF0"/><rect x="1408.05" width="47.2" height="15.95" fill="#FEF5F0"/>
<text class="st" x="1090.4" y="13">**</text><text class="st" x="1382.9" y="13">*</text></g>
<g id="r-IGFBP3" transform="translate(0,1097.25)"><text class="rl" x="1056" y="12">IGFBP3</text>
<rect x="1066.8" width="47.2" height="15.95" fill="#BAB6DC"/><rect x="1115.55" width="47.2" height="15.95" fill="#D3D1EA"/><rect x="1164.3" width="47.2" height="15.95" fill="#E4E3F2"/><rect x="1213.05" width="47.2" height="15.95" fill="#FDEEE8"/><rect x="1359.3" width="47.2" height="15.95" fill="#F8C2B4"/>
<text class="st" x="1090.4" y="13">***</text><text class="st" x="1139.15" y="13">**</text><text class="st" x="1382.9" y="13">**</text></g>
<g id="r-RBMX" transform="translate(0,1114.8)"><text class="rl" x="1056" y="12">RBMX</text>
<rect x="1066.8" width="47.2" height="15.95" fill="#E6E5F3"/><rect x="1115.55" width="47.2" height="15.95" fill="#DCDAEE"/><rect x="1164.3" width="47.2" height="15.95" fill="#FDE9E2"/><rect x="1213.05" width="47.2" height="15.95" fill="#F07A68"/><rect x="1261.8" width="47.2" height="15.95" fill="#FDE6E0"/><rect x="1359.3" width="47.2" height="15.95" fill="#EE5A48"/>
<text class="st" x="1139.15" y="13">*</text><text class="st" x="1236.65" y="13">***</text><text class="st" x="1382.9" y="13">***</text></g>
<g id="r-FTO" transform="translate(0,1132.35)"><text class="rl" x="1056" y="12">FTO</text>
<rect x="1066.8" width="47.2" height="15.95" fill="#F9CCC0"/><rect x="1164.3" width="47.2" height="15.95" fill="#FFF5F0"/><rect x="1213.05" width="47.2" height="15.95" fill="#F9D0C4"/><rect x="1261.8" width="47.2" height="15.95" fill="#E6E5F3"/><rect x="1310.55" width="47.2" height="15.95" fill="#FFF5F0"/><rect x="1359.3" width="47.2" height="15.95" fill="#F28878"/><rect x="1408.05" width="47.2" height="15.95" fill="#CBC8E6"/>
<text class="st" x="1090.4" y="13">*</text><text class="st" x="1236.65" y="13">*</text><text class="st" x="1382.9" y="13">***</text><text class="st" x="1431.65" y="13">***</text></g>
<g id="r-ALKBH5" transform="translate(0,1149.9)"><text class="rl" x="1056" y="12">ALKBH5</text>
<rect x="1066.8" width="47.2" height="15.95" fill="#FCE4DC"/><rect x="1164.3" width="47.2" height="15.95" fill="#FEF2EE"/><rect x="1213.05" width="47.2" height="15.95" fill="#FEF2EE"/><rect x="1310.55" width="47.2" height="15.95" fill="#F9D0C4"/><rect x="1359.3" width="47.2" height="15.95" fill="#FDEBE5"/>
<text class="st" x="1334.15" y="13">*</text></g>
</g>
<g id="col-labels">
<text class="cl" transform="translate(1096.4,1176) rotate(-45)">RNU1−70P</text>
<text class="cl" transform="translate(1145.15,1176) rotate(-45)">RNU1−75P</text>
<text class="cl" transform="translate(1193.9,1176) rotate(-45)">RNU11</text>
<text class="cl" transform="translate(1242.65,1176) rotate(-45)">RNU6−1011P</text>
<text class="cl" transform="translate(1291.4,1176) rotate(-45)">RNU6−2</text>
<text class="cl" transform="translate(1340.15,1176) rotate(-45)">RNU6−247P</text>
<text class="cl" transform="translate(1388.9,1176) rotate(-45)">RNU6−510P</text>
<text class="cl" transform="translate(1437.65,1176) rotate(-45)">RNU6−94P</text>
</g>
<g id="legend-c">
<text class="sm" x="1480" y="891">***</text><text class="sm" x="1501" y="891">p&lt;0.001</text>
<text class="sm" x="1481" y="904">**</text><text class="sm" x="1496" y="904">p&lt;0.01</text>
<text class="sm" x="1485" y="917">*</text><text class="sm" x="1496" y="917">p&lt;0.05</text>
<text class="sm" x="1480" y="944">Correlation</text>
<rect x="1480" y="951" width="18" height="96" fill="url(#cb)"/>
<path d="M1480 959h3M1495 959h3M1480 987h3M1495 987h3M1480 1015h3M1495 1015h3M1480 1043h3M1495 1043h3" stroke="#fff" stroke-width="1"/>
<text font-family="Liberation Sans, Arial, sans-serif" font-size="10" fill="#333" x="1505" y="962.5">0.4</text>
<text font-family="Liberation Sans, Arial, sans-serif" font-size="10" fill="#333" x="1505" y="990.5">0.2</text>
<text font-family="Liberation Sans, Arial, sans-serif" font-size="10" fill="#333" x="1505" y="1018.5">0.0</text>
<text font-family="Liberation Sans, Arial, sans-serif" font-size="10" fill="#333" x="1501" y="1046.5">−0.2</text>
</g>
</svg>
